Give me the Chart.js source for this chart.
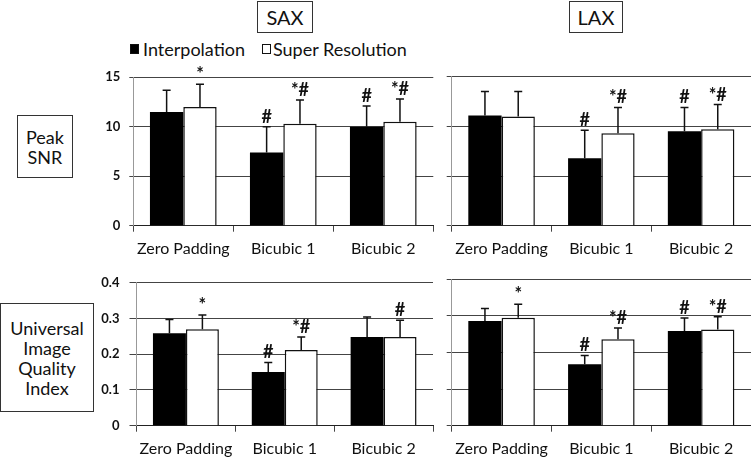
<!DOCTYPE html>
<html>
<head>
<meta charset="utf-8">
<script src="https://cdn.jsdelivr.net/npm/chart.js@4.4.1/dist/chart.umd.min.js"></script>
<style>
  body { margin: 0; width: 751px; height: 460px; background: #fff; position: relative; overflow: hidden; font-family: Lato, sans-serif; color: #111; }
  .box { position: absolute; border: 1.5px solid #333; box-sizing: border-box; display: flex; align-items: center; justify-content: center; text-align: center; background: #fff; }
  .head { font-size: 20px; top: 1px; height: 32px; }
  .row { font-size: 18px; line-height: 20px; }
  canvas { position: absolute; }
  #legend { position: absolute; left: 130px; top: 38px; font-size: 18px; display: flex; align-items: center; white-space: nowrap; }
  #legend .sw { display: inline-block; width: 9px; height: 10px; box-sizing: border-box; border: 1px solid #111; margin-right: 4px; }
</style>
</head>
<body>
<div class="box head" style="left:257px;width:56px;">SAX</div>
<div class="box head" style="left:569px;width:54px;">LAX</div>
<div id="legend">
  <span class="sw" style="background:#000"></span><span>Interpolation</span>
  <span class="sw" style="background:#fff;margin-left:17px;margin-right:2px"></span><span>Super Resolution</span>
</div>
<div class="box row" style="left:17px;top:115px;width:56px;height:63px;">Peak<br>SNR</div>
<div class="box row" style="left:0;top:303px;width:94px;height:109px;">Universal<br>Image<br>Quality<br>Index</div>

<canvas id="saxSnr" width="350" height="200" style="left:85px;top:60px"></canvas>
<canvas id="laxSnr" width="311" height="200" style="left:440px;top:60px"></canvas>
<canvas id="saxUiqi" width="350" height="195" style="left:85px;top:265px"></canvas>
<canvas id="laxUiqi" width="311" height="195" style="left:440px;top:265px"></canvas>

<script>
const CATEGORIES = ['Zero Padding', 'Bicubic 1', 'Bicubic 2'];
const SERIES = ['Interpolation', 'Super Resolution'];

// Peak SNR, SAX
const saxSnrInterp = [11.5, 7.4, 10.0];
const saxSnrInterpErr = [2.2, 2.6, 2.1];
const saxSnrSR = [12.0, 10.3, 10.5];
const saxSnrSRErr = [2.3, 2.4, 2.3];
const saxSnrInterpMarks = ['', '#', '#'];
const saxSnrSRMarks = ['*', '*#', '*#'];

// Peak SNR, LAX
const laxSnrInterp = [11.1, 6.8, 9.5];
const laxSnrInterpErr = [2.4, 2.8, 2.4];
const laxSnrSR = [11.0, 9.3, 9.7];
const laxSnrSRErr = [2.5, 2.6, 2.5];
const laxSnrInterpMarks = ['', '#', '#'];
const laxSnrSRMarks = ['', '*#', '*#'];

// Universal Image Quality Index, SAX
const saxUiqiInterp = [0.259, 0.150, 0.248];
const saxUiqiInterpErr = [0.038, 0.027, 0.056];
const saxUiqiSR = [0.270, 0.212, 0.248];
const saxUiqiSRErr = [0.040, 0.036, 0.047];
const saxUiqiInterpMarks = ['', '#', ''];
const saxUiqiSRMarks = ['*', '*#', '#'];

// Universal Image Quality Index, LAX
const laxUiqiInterp = [0.286, 0.168, 0.259];
const laxUiqiInterpErr = [0.034, 0.024, 0.035];
const laxUiqiSR = [0.295, 0.236, 0.263];
const laxUiqiSRErr = [0.037, 0.031, 0.035];
const laxUiqiInterpMarks = ['', '#', '#'];
const laxUiqiSRMarks = ['*', '*#', '*#'];

const SNR_TICKS = { max: 15, step: 5 };
const UIQI_TICKS = { max: 0.4, step: 0.1 };

// error bars and significance marks drawn on top of the bars
const errorBars = {
  id: 'errorBars',
  afterDatasetsDraw(chart, args, opts) {
    const { ctx } = chart;
    const y = chart.scales.y;
    chart.data.datasets.forEach((ds, i) => {
      chart.getDatasetMeta(i).data.forEach((bar, j) => {
        const top = y.getPixelForValue(ds.data[j] + opts.errors[i][j]);
        ctx.save();
        ctx.strokeStyle = '#111';
        ctx.lineWidth = 1.5;
        ctx.beginPath();
        ctx.moveTo(bar.x, bar.y);
        ctx.lineTo(bar.x, top);
        ctx.moveTo(bar.x - 4, top);
        ctx.lineTo(bar.x + 4, top);
        ctx.stroke();
        const mark = opts.marks[i][j];
        if (mark) {
          ctx.fillStyle = '#111';
          ctx.font = 'bold 18px Lato';
          ctx.textAlign = 'center';
          ctx.textBaseline = 'alphabetic';
          ctx.fillText(mark, bar.x, top - 4);
        }
        ctx.restore();
      });
    });
  },
};

function makeChart(id, interp, sr, errors, marks, range, geo) {
  const canvas = document.getElementById(id);
  const cLeft = parseFloat(canvas.style.left), cTop = parseFloat(canvas.style.top);
  return new Chart(canvas, {
    type: 'bar',
    data: {
      labels: CATEGORIES,
      datasets: [
        { label: SERIES[0], data: interp, backgroundColor: '#000', borderColor: '#000', borderWidth: 0 },
        { label: SERIES[1], data: sr, backgroundColor: '#fff', borderColor: '#111', borderWidth: 1.5 },
      ],
    },
    options: {
      responsive: false,
      animation: false,
      categoryPercentage: 0.667,
      barPercentage: 1,
      layout: {
        padding: { top: geo.plotTop - cTop, right: cLeft + canvas.width - geo.plotRight, left: 0, bottom: 0 },
      },
      plugins: {
        legend: { display: false },
        tooltip: { enabled: false },
        errorBars: { errors, marks },
      },
      scales: {
        x: {
          grid: { drawOnChartArea: false, drawTicks: true, tickLength: 6, color: '#444' },
          border: { color: '#222', width: 1 },
          ticks: { color: '#111', font: { family: 'Lato', size: 16 }, padding: 8, maxRotation: 0 },
          afterFit: s => { s.height = cTop + canvas.height - geo.plotBottom; },
        },
        y: {
          min: 0,
          max: range.max,
          grid: { color: '#444', lineWidth: 1, tickLength: geo.tickLength },
          border: { color: '#999', width: 1 },
          ticks: {
            display: geo.labels,
            stepSize: range.step,
            color: '#111',
            font: { family: 'Lato', size: 13, weight: 'bold' },
            padding: geo.tickPad,
          },
          afterFit: s => { s.width = geo.plotLeft - cLeft; },
        },
      },
    },
    plugins: [errorBars],
  });
}

makeChart('saxSnr', saxSnrInterp, saxSnrSR, [saxSnrInterpErr, saxSnrSRErr], [saxSnrInterpMarks, saxSnrSRMarks], SNR_TICKS,
  { plotLeft: 133.3, plotRight: 433.3, plotTop: 77.3, plotBottom: 225.7, labels: true, tickLength: 4, tickPad: 9 });
makeChart('laxSnr', laxSnrInterp, laxSnrSR, [laxSnrInterpErr, laxSnrSRErr], [laxSnrInterpMarks, laxSnrSRMarks], SNR_TICKS,
  { plotLeft: 451.7, plotRight: 751, plotTop: 76.7, plotBottom: 225.7, labels: false, tickLength: 5, tickPad: 0 });
makeChart('saxUiqi', saxUiqiInterp, saxUiqiSR, [saxUiqiInterpErr, saxUiqiSRErr], [saxUiqiInterpMarks, saxUiqiSRMarks], UIQI_TICKS,
  { plotLeft: 136.5, plotRight: 433, plotTop: 280.7, plotBottom: 425.7, labels: true, tickLength: 7, tickPad: 10 });
makeChart('laxUiqi', laxUiqiInterp, laxUiqiSR, [laxUiqiInterpErr, laxUiqiSRErr], [laxUiqiInterpMarks, laxUiqiSRMarks], UIQI_TICKS,
  { plotLeft: 451.7, plotRight: 751, plotTop: 279.3, plotBottom: 425.7, labels: false, tickLength: 5, tickPad: 0 });
</script>
</body>
</html>
